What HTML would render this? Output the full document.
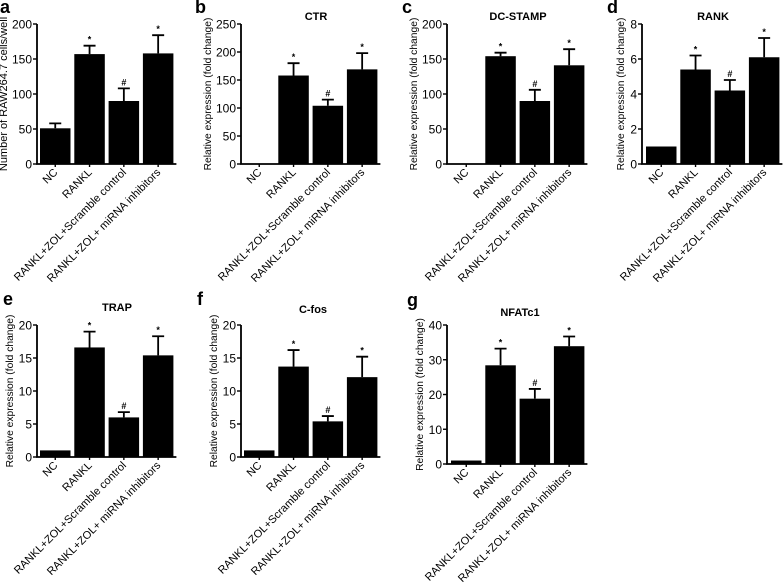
<!DOCTYPE html>
<html><head><meta charset="utf-8"><style>
html,body{margin:0;padding:0;background:#fff;}
svg{display:block;font-family:"Liberation Sans",Arial,sans-serif;}
</style></head><body>
<svg id="fig" width="783" height="587" viewBox="0 0 783 587" xmlns="http://www.w3.org/2000/svg"></svg>
<script>
const categories = ["NC","RANKL","RANKL+ZOL+Scramble control","RANKL+ZOL+ miRNA inhibitors"];
const valsA = [51,157,90,158];   const errA = [7,12,18,26];
const valsB = [0,158,104,169];   const errB = [0,22,11,29];
const valsC = [0,154,90,141];    const errC = [0,5,16,23];
const valsD = [1,5.4,4.2,6.1];   const errD = [0,0.8,0.6,1.1];
const valsE = [1,16.6,6.0,15.4]; const errE = [0,2.4,0.8,2.9];
const valsF = [1,13.7,5.4,12.1]; const errF = [0,2.5,0.8,3.1];
const valsG = [1,28.4,18.8,33.9];const errG = [0,4.8,2.8,2.8];
const ticksA = [0,50,100,150,200];
const ticksB = [0,50,100,150,200,250];
const ticksC = [0,50,100,150,200];
const ticksD = [0,2,4,6,8];
const ticksE = [0,5,10,15,20];
const ticksF = [0,5,10,15,20];
const ticksG = [0,10,20,30,40];
const marks = ["","*","#","*"];

const NS="http://www.w3.org/2000/svg";
const svg=document.getElementById('fig');
function mk(tag,attrs,parent){const e=document.createElementNS(NS,tag);for(const k in attrs)e.setAttribute(k,attrs[k]);(parent||svg).appendChild(e);return e;}

const panels=[
 {id:'a',letter:'a',lx:0,ly:13,title:'',ylab:'Number of RAW264.7 cells/well',ylfs:11,ax:37,y0:164,yTop:24,vals:valsA,errs:errA,ticks:ticksA,firstBar:40},
 {id:'b',letter:'b',lx:195,ly:13,title:'CTR',tx:316,ty:20,ylab:'Relative expression (fold change)',ylfs:10.3,ax:241,y0:164,yTop:24,vals:valsB,errs:errB,ticks:ticksB,firstBar:244},
 {id:'c',letter:'c',lx:402,ly:13,title:'DC-STAMP',tx:518,ty:20,ylab:'Relative expression (fold change)',ylfs:10.3,ax:447,y0:164,yTop:24,vals:valsC,errs:errC,ticks:ticksC,firstBar:451},
 {id:'d',letter:'d',lx:607,ly:13,title:'RANK',tx:713,ty:20,ylab:'Relative expression (fold change)',ylfs:10.3,ax:642,y0:164,yTop:24,vals:valsD,errs:errD,ticks:ticksD,firstBar:646},
 {id:'e',letter:'e',lx:3,ly:305,title:'TRAP',tx:117,ty:311,ylab:'Relative expression (fold change)',ylfs:10.3,ax:37,y0:457,yTop:325,vals:valsE,errs:errE,ticks:ticksE,firstBar:40},
 {id:'f',letter:'f',lx:197,ly:305,title:'C-fos',tx:313,ty:313,ylab:'Relative expression (fold change)',ylfs:10.3,ax:241,y0:457,yTop:325,vals:valsF,errs:errF,ticks:ticksF,firstBar:244},
 {id:'g',letter:'g',lx:407,ly:306,title:'NFATc1',tx:520,ty:316,ylab:'Relative expression (fold change)',ylfs:10.3,ax:447,y0:464,yTop:325,vals:valsG,errs:errG,ticks:ticksG,firstBar:451}
];
const BW=30.5, STEP=34.3;
panels.forEach(p=>{
  const g=mk('g',{});
  
  
  const maxT=p.ticks[p.ticks.length-1];
  const yS=v=>p.y0-(v/maxT)*(p.y0-p.yTop);
  const xEnd=p.firstBar+3*STEP+BW+3;
  const L=mk('text',{x:p.lx,y:p.ly,'font-size':18,'font-weight':'bold',fill:'#000'},g);L.textContent=p.letter;
  
  if(p.title){const t=mk('text',{x:p.tx,y:p.ty,'font-size':11,'font-weight':'bold','text-anchor':'middle'},g);t.textContent=p.title;
    }
  p.vals.forEach((v,i)=>{
    const x=p.firstBar+i*STEP, cx=x+BW/2;
    const yv=yS(v), ye=yS(v+p.errs[i]);
    if(p.errs[i]>0){
      const l=mk('path',{d:`M${cx},${yv} V${ye} M${cx-6},${ye} H${cx+6}`,stroke:'#000','stroke-width':1.8,fill:'none'},g);
      
    }
    const r=mk('rect',{x:x,y:yv,width:BW,height:Math.max(0,p.y0-yv),fill:'#000'},g);
    
    if(marks[i]){const m=mk('text',{x:cx,y:ye-3,'font-size':9,'font-weight':'bold','text-anchor':'middle'},g);m.textContent=marks[i];
      }
    mk('line',{x1:cx,x2:cx,y1:p.y0,y2:p.y0+3,stroke:'#000','stroke-width':1.4},g);
    const lb=mk('text',{x:cx+3,y:p.y0+9,'font-size':11,'text-anchor':'end',transform:`rotate(-45 ${cx+3} ${p.y0+9})`},g);
    lb.textContent=categories[i];
    
  });
  const ax=mk('path',{d:`M${p.ax},${p.yTop} V${p.y0} H${xEnd}`,stroke:'#000','stroke-width':1.8,fill:'none'},g);
  
  p.ticks.forEach(t=>{
    const y=yS(t);
    mk('line',{x1:p.ax-4,x2:p.ax,y1:y,y2:y,stroke:'#000','stroke-width':1.4},g);
    const tl=mk('text',{x:p.ax-5,y:y+4.5,'font-size':12,'text-anchor':'end'},g);tl.textContent=t;
    
  });
  const yx=p.ax-(maxT>=100?30:maxT>=10?24:18), ym=(p.y0+p.yTop)/2;
  const yl=mk('text',{x:yx,y:ym,'font-size':p.ylfs,'text-anchor':'middle',transform:`rotate(-90 ${yx} ${ym})`},g);
  yl.textContent=p.ylab;
  
});
</script>
</body></html>
